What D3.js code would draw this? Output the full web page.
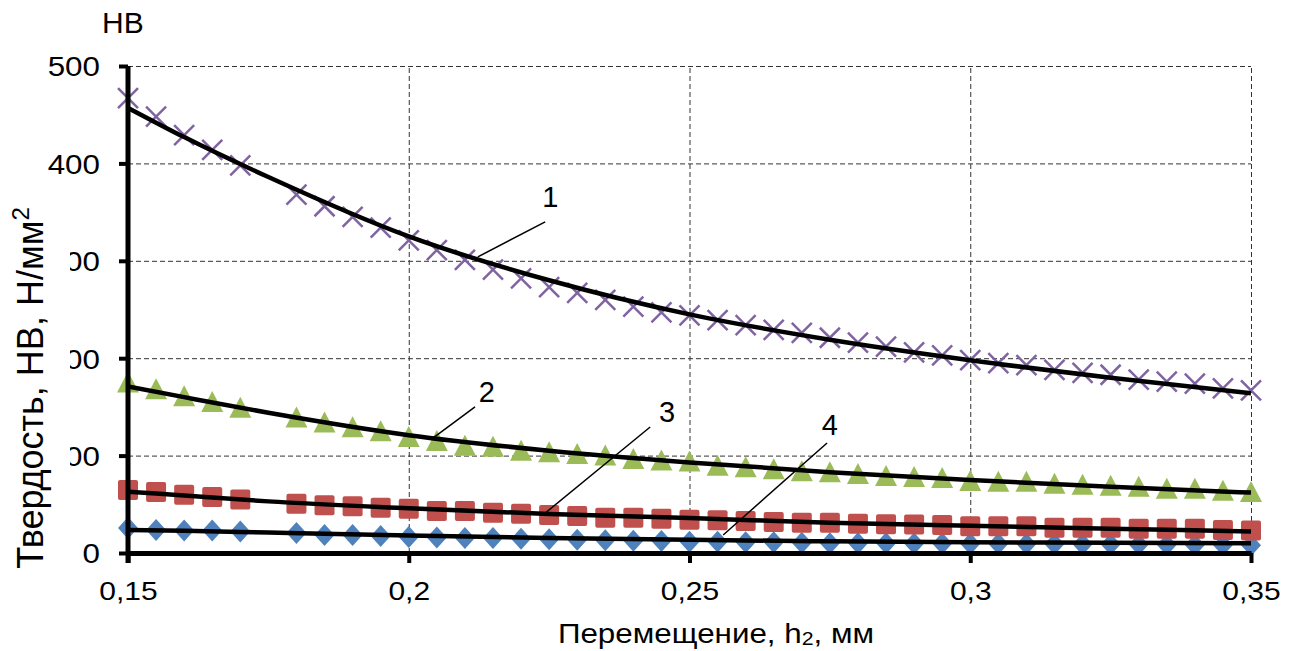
<!DOCTYPE html>
<html>
<head>
<meta charset="utf-8">
<script src="https://cdn.jsdelivr.net/npm/d3@7"></script>
<style>
    body { margin: 0; background: #fff; }
    text { font-family: "Liberation Sans", Arial, sans-serif; fill: #000; }
    .grid line { stroke: #333; stroke-width: 1; stroke-dasharray: 5 3; }
    .grid .domain { display: none; }
</style>
</head>
<body>
<div id="chart"></div>
<script>
// Перемещение h2, мм
const xValues = [0.15, 0.155, 0.16, 0.165, 0.17, 0.18, 0.185, 0.19, 0.195, 0.2,
    0.205, 0.21, 0.215, 0.22, 0.225, 0.23, 0.235, 0.24, 0.245, 0.25,
    0.255, 0.26, 0.265, 0.27, 0.275, 0.28, 0.285, 0.29, 0.295, 0.3,
    0.305, 0.31, 0.315, 0.32, 0.325, 0.33, 0.335, 0.34, 0.345, 0.35]

// Твердость HB, серии 1..4
const series1 = [467, 448, 429, 414, 398, 368, 356, 345, 334, 321,
    311, 301, 291, 282, 273, 267, 260, 253, 247, 244,
    239, 234, 229, 226, 221, 216, 212, 206, 203, 198,
    195, 193, 188, 185, 183, 178, 176, 174, 169, 167]
const series2 = [174, 167, 160, 154, 148, 138, 133, 128, 124, 118,
    114, 109, 108, 104, 102.5, 100.6, 99, 95.5, 94, 93,
    88.5, 87, 85, 83, 82, 80, 78, 77, 76, 73,
    72, 72, 70, 69, 68, 67, 65, 65, 63, 61.5]
const series3 = [64.7, 62.6, 59.8, 57.5, 54.8, 50.6, 49, 48, 46.5, 45.5,
    43, 43, 41.4, 40.4, 39, 38, 36.3, 36.3, 35.2, 34.2,
    33.5, 32.8, 31.8, 31.1, 31.1, 30, 29.6, 29.3, 28.7, 27.4,
    27.4, 27.4, 26, 26, 26, 25, 25, 25, 23.5, 23]
const series4 = [25.7, 23.6, 23, 23, 22, 20.5, 18.5, 18.5, 17.5, 16.5,
    16, 15.5, 15.4, 14.7, 14, 13.7, 13, 12.6, 12.3, 11.6,
    11.6, 11, 11, 10.6, 10, 10, 9.9, 9.8, 9.7, 9.5,
    9.4, 9.3, 9.2, 9, 8.9, 8.7, 8.5, 8.3, 8.1, 8]

// Линии тренда
const trendX = [0.15, 0.16, 0.175, 0.2, 0.225, 0.25, 0.275, 0.3, 0.325, 0.35]
const trend1 = [457, 427, 386, 325, 280, 245, 219, 198, 180, 164]
const trend2 = [171, 160, 144, 121, 105, 93, 83, 75, 68, 62]
const trend3 = [63, 59, 53, 46, 40, 36, 31, 28, 25, 22]
const trend4 = [23.6, 22.8, 21, 18, 15.5, 13.5, 12, 11, 10.5, 10]

// Подписи кривых: текст, позиция и выноска (в единицах осей)
const labelNames = ["1", "2", "3", "4"]
const labelAt = [[0.2252, 355], [0.2139, 155], [0.246, 134.5], [0.275, 121]]
const leaderFrom = [[0.2243, 340], [0.2118, 150], [0.243, 129.4], [0.2745, 113]]
const leaderTo = [[0.2123, 304], [0.2043, 118], [0.2243, 41], [0.256, 18.5]]

const xTicks = [0.15, 0.2, 0.25, 0.3, 0.35]
const yTicks = [0, 100, 200, 300, 400, 500]

function drawChart() {
    const W = 1299, H = 651
    const margin = { top: 66, right: 48, bottom: 98, left: 128 }
    const width = W - margin.left - margin.right
    const height = H - margin.top - margin.bottom

    const ru = d3.formatLocale({ decimal: ",", thousands: " ", grouping: [3], currency: ["", ""] })

    const svg = d3.select("#chart").append("svg")
        .attr("width", W).attr("height", H)
    svg.append("rect").attr("width", W).attr("height", H).attr("fill", "#fff")

    const g = svg.append("g").attr("transform", `translate(${margin.left},${margin.top})`)

    const x = d3.scaleLinear().domain([0.15, 0.35]).range([0, width])
    const y = d3.scaleLinear().domain([0, 500]).range([height, 0])

    // сетка
    g.append("g").attr("class", "grid")
        .call(d3.axisLeft(y).tickValues(yTicks.slice(1)).tickSize(-width).tickFormat(""))
    g.append("g").attr("class", "grid")
        .attr("transform", `translate(0,${height})`)
        .call(d3.axisBottom(x).tickValues(xTicks.slice(1)).tickSize(-height).tickFormat(""))

    // маркеры
    const pts = s => xValues.map((v, i) => [x(v), y(s[i])])

    g.append("g").selectAll("path").data(pts(series4)).join("path")
        .attr("d", d => `M${d[0]},${d[1] - 11}L${d[0] + 10},${d[1]}L${d[0]},${d[1] + 11}L${d[0] - 10},${d[1]}Z`)
        .attr("fill", "#4F81BD")
    g.append("g").selectAll("rect").data(pts(series3)).join("rect")
        .attr("x", d => d[0] - 10).attr("y", d => d[1] - 10)
        .attr("width", 20).attr("height", 20).attr("rx", 2)
        .attr("fill", "#C0504D")
    g.append("g").selectAll("path").data(pts(series2)).join("path")
        .attr("d", d => `M${d[0]},${d[1] - 12}L${d[0] + 11},${d[1] + 9}L${d[0] - 11},${d[1] + 9}Z`)
        .attr("fill", "#9BBB59")
    g.append("g").selectAll("path").data(pts(series1)).join("path")
        .attr("d", d => `M${d[0] - 10},${d[1] - 10}L${d[0] + 10},${d[1] + 10}M${d[0] + 10},${d[1] - 10}L${d[0] - 10},${d[1] + 10}`)
        .attr("stroke", "#8064A2").attr("stroke-width", 2.5).attr("fill", "none")

    // тренды
    const line = d3.line().x(d => x(d[0])).y(d => y(d[1])).curve(d3.curveMonotoneX);
    [trend1, trend2, trend3, trend4].forEach(t => {
        g.append("path")
            .datum(trendX.map((v, i) => [v, t[i]]))
            .attr("d", line)
            .attr("fill", "none").attr("stroke", "#000").attr("stroke-width", 4.5)
    })

    // оси
    const yAxis = g.append("g")
        .call(d3.axisLeft(y).tickValues(yTicks).tickSize(9).tickSizeOuter(0).tickPadding(0))
    yAxis.select(".domain").attr("stroke-width", 5).attr("d", `M0,0V${height + 10}`)
    yAxis.selectAll(".tick line").attr("stroke-width", 4)
    yAxis.selectAll(".tick text")
        .attr("x", 0).attr("dy", "0.35em")
        .attr("transform", "translate(-28,0) scale(1.12,1)")
        .style("font-size", "28px").style("font-family", null)

    const xAxis = g.append("g").attr("transform", `translate(0,${height})`)
        .call(d3.axisBottom(x).tickValues(xTicks).tickSize(10).tickSizeOuter(0)
            .tickFormat(d => ru.format("~g")(d)))
    xAxis.select(".domain").attr("stroke-width", 5)
    xAxis.selectAll(".tick line").attr("stroke-width", 4)
    xAxis.selectAll(".tick text")
        .attr("y", 0).attr("dy", 0)
        .attr("transform", "translate(0,47) scale(1.2,1)")
        .style("font-size", "25px").style("font-family", null)

    // подписи кривых
    labelNames.forEach((name, i) => {
        g.append("line")
            .attr("x1", x(leaderFrom[i][0])).attr("y1", y(leaderFrom[i][1]))
            .attr("x2", x(leaderTo[i][0])).attr("y2", y(leaderTo[i][1]))
            .attr("stroke", "#000").attr("stroke-width", 1.5)
        g.append("text")
            .attr("x", x(labelAt[i][0])).attr("y", y(labelAt[i][1]))
            .attr("text-anchor", "middle")
            .style("font-size", "29px")
            .text(name)
    })

    // подпись оси Y (с белой подложкой)
    svg.append("rect").attr("x", 0).attr("y", 186).attr("width", 70).attr("height", 404).attr("fill", "#fff")
    const yt = svg.append("text")
        .attr("transform", "translate(43,388) rotate(-90)")
        .attr("text-anchor", "middle")
        .style("font-size", "36px")
    yt.append("tspan").text("Твердость, НВ, Н/мм")
    yt.append("tspan").attr("dy", "-0.6em").style("font-size", "24px").text("2")

    svg.append("text").attr("x", 102).attr("y", 33)
        .style("font-size", "30px").text("HB")

    const xt = svg.append("text")
        .attr("transform", "translate(716,643) scale(1.12,1)")
        .attr("text-anchor", "middle")
        .style("font-size", "28px")
    xt.append("tspan").text("Перемещение, h")
    xt.append("tspan").attr("dy", 2).style("font-size", "19px").text("2")
    xt.append("tspan").attr("dy", -2).text(", мм")
}

window.addEventListener("load", drawChart)
</script>
</body>
</html>
